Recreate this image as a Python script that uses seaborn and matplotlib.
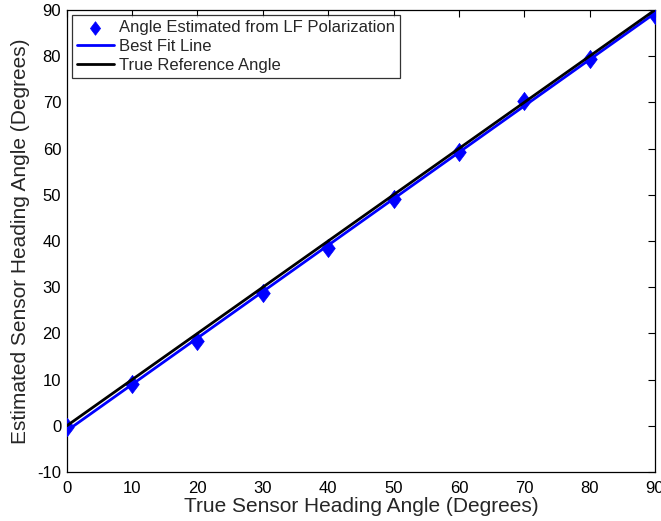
import numpy as np
import pandas as pd
import matplotlib
matplotlib.use("Agg")
import matplotlib.pyplot as plt
import seaborn as sns

true_angle = [0, 10, 20, 30, 40, 50, 60, 70, 80, 90]
est_angle = [-0.3, 9.0, 18.4, 28.7, 38.5, 49.0, 59.2, 70.3, 79.4, 88.9]
x_ticks = [0, 10, 20, 30, 40, 50, 60, 70, 80, 90]
y_ticks = [-10, 0, 10, 20, 30, 40, 50, 60, 70, 80, 90]

sns.set_style("white")
plt.rcParams['font.family'] = ['Liberation Sans', 'DejaVu Sans']
plt.rcParams['axes.unicode_minus'] = False

fig = plt.figure(figsize=(6.61, 5.21), dpi=100)
ax = fig.add_axes([0.101, 0.094, 0.890, 0.887])

slope, intercept = np.polyfit(true_angle, est_angle, 1)
fit_x = [0, 90]
fit_y = [intercept + slope * v for v in fit_x]

diamond = [(0, 1), (0.75, 0), (0, -1), (-0.75, 0), (0, 1)]

df = pd.DataFrame({"x": true_angle, "y": est_angle})
sns.scatterplot(data=df, x="x", y="y", ax=ax, marker=diamond, s=170, color="#0000ff",
                edgecolor="#0000ff", linewidth=0.5, zorder=3,
                label="Angle Estimated from LF Polarization")
sns.lineplot(x=fit_x, y=fit_y, ax=ax, color="#0000ff", linewidth=2, zorder=4,
             label="Best Fit Line")
sns.lineplot(x=[0, 90], y=[0, 90], ax=ax, color="black", linewidth=2, zorder=5,
             label="True Reference Angle")

ax.set_xlim(0, 90)
ax.set_ylim(-10, 90)
ax.set_xticks(x_ticks)
ax.set_yticks(y_ticks)
ax.tick_params(direction="in", top=True, right=True, length=5, width=0.8,
               labelsize=12, colors="black")
ax.tick_params(axis="x", pad=6.5)
ax.tick_params(axis="y", pad=4)
for s in ax.spines.values():
    s.set_color("black")
    s.set_linewidth(0.9)
ax.set_xlabel("True Sensor Heading Angle (Degrees)", fontsize=15, labelpad=1)
ax.set_ylabel("Estimated Sensor Heading Angle (Degrees)", fontsize=15, labelpad=5)

leg = ax.legend(loc="upper left", fontsize=12, frameon=True, fancybox=False,
                edgecolor="black", borderaxespad=0.32, handlelength=2.2,
                borderpad=0.3, labelspacing=0.22, handletextpad=0.3,
                markerscale=0.75)
leg.get_frame().set_linewidth(0.9)

fig.savefig("out.png", dpi=100)
